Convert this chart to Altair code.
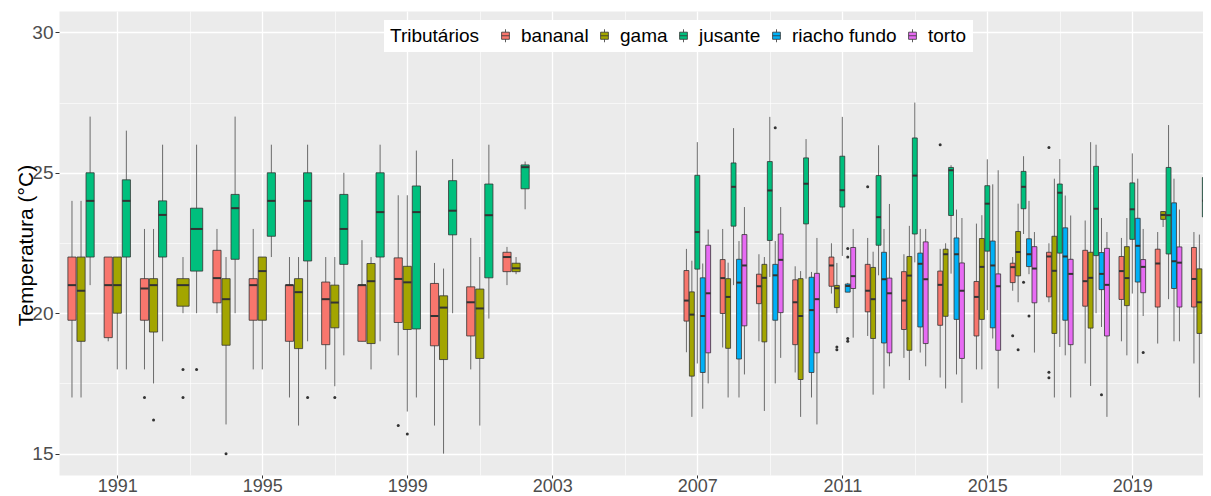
import altair as alt
import pandas as pd

tributaries = ["bananal", "gama", "jusante", "riacho fundo", "torto"]
colors = ["#F8766D", "#A3A500", "#00BF7D", "#00B0F6", "#E76BF3"]

# (year, lower whisker, q1, median, q3, upper whisker)
bananal = [
    (1990, 17.0, 19.75, 21.0, 22.0, 24.0), (1991, 19.0, 19.13, 21.0, 22.0, 22.0),
    (1992, 18.0, 19.75, 20.88, 21.23, 23.0), (1994, 20.0, 20.37, 21.25, 22.24, 23.0),
    (1995, 18.0, 19.75, 21.0, 21.23, 23.0), (1996, 17.0, 19.0, 21.0, 21.0, 22.0),
    (1997, 18.0, 18.88, 20.5, 21.11, 22.0), (1998, 19.0, 19.0, 21.0, 21.0, 22.6),
    (1999, 18.5, 19.67, 21.22, 21.97, 24.2), (2000, 16.0, 18.84, 19.9, 21.06, 21.79),
    (2001, 18.0, 19.19, 20.39, 20.94, 22.68), (2002, 21.0, 21.48, 22.0, 22.17, 22.36),
    (2007, 18.61, 19.72, 20.45, 21.52, 22.29), (2008, 18.78, 19.99, 21.25, 21.91, 23.0),
    (2009, 19.0, 20.34, 20.96, 21.39, 22.1), (2010, 17.89, 18.88, 20.39, 21.19, 21.67),
    (2011, 20.7, 20.96, 21.7, 22.0, 22.49), (2012, 19.19, 20.05, 20.8, 21.74, 22.68),
    (2013, 18.41, 19.42, 20.45, 21.48, 22.1), (2014, 17.71, 19.57, 21.01, 21.5, 22.29),
    (2015, 18.0, 19.19, 20.58, 21.13, 23.19), (2016, 20.8, 21.09, 21.64, 21.78, 22.0),
    (2017, 20.39, 20.58, 22.02, 22.17, 22.49), (2018, 18.21, 20.25, 21.14, 22.24, 23.3),
    (2019, 19.0, 20.49, 21.5, 22.02, 22.68), (2020, 18.92, 20.22, 21.77, 22.28, 22.89),
    (2021, 18.21, 20.22, 21.22, 22.34, 22.89),
]
gama = [
    (1990, 17.0, 19.0, 20.8, 22.0, 24.0), (1991, 18.0, 20.0, 21.0, 22.0, 22.0),
    (1992, 17.5, 19.33, 21.0, 21.23, 23.0), (1993, 20.0, 20.25, 21.0, 21.23, 22.0),
    (1994, 16.04, 18.86, 20.5, 21.23, 22.0), (1995, 18.0, 19.75, 21.5, 22.0, 22.0),
    (1996, 16.0, 18.74, 20.75, 21.23, 22.0), (1997, 17.4, 19.48, 20.38, 21.0, 22.0),
    (1998, 18.0, 18.92, 21.14, 21.77, 22.0), (1999, 16.5, 19.42, 21.1, 21.67, 24.2),
    (2000, 15.0, 18.35, 20.2, 20.62, 21.59), (2001, 16.0, 18.39, 20.17, 20.86, 22.0),
    (2002, 21.39, 21.48, 21.6, 21.78, 22.0),
    (2007, 16.31, 17.76, 19.95, 20.76, 21.87), (2008, 17.0, 18.75, 20.58, 21.23, 21.8),
    (2009, 16.52, 18.98, 21.26, 21.74, 22.0), (2010, 16.31, 17.64, 19.9, 21.23, 21.5),
    (2011, 20.0, 20.2, 20.89, 20.99, 21.79), (2012, 17.1, 19.1, 20.5, 21.63, 22.19),
    (2013, 17.62, 18.68, 21.34, 22.02, 23.11), (2014, 17.32, 19.89, 22.1, 22.28, 22.49),
    (2015, 18.0, 19.78, 21.65, 22.66, 23.49), (2016, 20.39, 21.33, 22.18, 22.91, 23.9),
    (2017, 17.0, 19.28, 21.51, 22.74, 24.79), (2018, 17.41, 19.47, 21.26, 22.17, 26.09),
    (2019, 18.5, 20.27, 21.25, 22.37, 23.39), (2020, 23.07, 23.34, 23.5, 23.62, 23.62),
    (2021, 17.0, 19.28, 20.39, 21.58, 22.8),
]
jusante = [
    (1990, 21.0, 22.0, 24.0, 25.0, 27.0), (1991, 18.0, 22.0, 24.0, 24.75, 26.5),
    (1992, 19.0, 22.0, 23.5, 24.0, 26.0), (1993, 20.0, 21.5, 23.0, 23.74, 26.0),
    (1994, 20.0, 21.92, 23.74, 24.23, 27.0), (1995, 22.0, 22.74, 24.0, 25.0, 26.0),
    (1996, 19.0, 21.86, 24.0, 25.0, 26.0), (1997, 18.5, 21.74, 23.0, 24.23, 25.0),
    (1998, 19.0, 22.0, 23.6, 25.0, 26.0), (1999, 17.0, 19.44, 23.6, 24.53, 25.79),
    (2000, 20.0, 22.79, 23.65, 24.72, 25.49), (2001, 19.81, 21.26, 23.49, 24.6, 26.0),
    (2002, 23.7, 24.43, 25.2, 25.28, 25.4),
    (2007, 18.21, 21.57, 22.89, 24.91, 26.09), (2008, 21.0, 23.1, 24.5, 25.35, 26.59),
    (2009, 21.29, 22.59, 24.37, 25.4, 26.99), (2010, 21.23, 23.18, 24.61, 25.53, 26.2),
    (2011, 22.04, 23.78, 24.38, 25.59, 26.99), (2012, 21.35, 22.42, 23.42, 24.9, 25.98),
    (2013, 21.81, 22.82, 24.9, 26.24, 27.5), (2014, 21.41, 23.48, 25.09, 25.19, 25.27),
    (2015, 20.11, 22.21, 23.9, 24.54, 25.48), (2016, 22.82, 23.72, 24.5, 25.05, 25.59),
    (2017, 18.8, 22.14, 24.29, 24.6, 25.49), (2018, 20.0, 22.05, 23.72, 25.23, 26.0),
    (2019, 20.7, 22.63, 23.7, 24.64, 25.69), (2020, 20.5, 22.11, 23.49, 25.19, 26.7),
    (2021, 21.81, 23.43, 24.0, 24.83, 26.19),
]
riacho_fundo = [
    (2007, 16.6, 17.89, 19.9, 21.26, 21.77), (2008, 17.0, 18.37, 21.09, 21.92, 22.57),
    (2009, 17.5, 19.75, 21.35, 21.74, 22.57), (2010, 17.0, 17.89, 20.11, 21.28, 21.47),
    (2011, 20.75, 20.75, 20.97, 21.04, 21.08), (2012, 17.32, 18.94, 21.21, 22.17, 23.0),
    (2013, 18.6, 19.51, 21.76, 22.14, 23.0), (2014, 17.82, 19.78, 22.1, 22.68, 23.69),
    (2015, 19.1, 19.48, 21.7, 22.57, 24.59), (2016, 21.39, 21.66, 22.1, 22.65, 24.0),
    (2017, 18.5, 19.75, 22.02, 23.04, 24.19), (2018, 19.51, 20.84, 21.4, 22.16, 23.39),
    (2019, 18.21, 21.11, 22.4, 23.38, 24.79), (2020, 19.0, 20.88, 21.85, 23.93, 24.79),
    (2021, 20.31, 21.08, 21.51, 22.93, 23.78),
]
torto = [
    (2007, 17.5, 18.59, 20.71, 22.42, 22.98), (2008, 17.82, 19.55, 21.7, 22.8, 23.78),
    (2009, 18.41, 20.02, 21.9, 22.82, 23.78), (2010, 16.04, 18.59, 20.5, 21.42, 22.68),
    (2011, 19.13, 20.88, 21.32, 22.34, 23.0), (2012, 18.11, 18.59, 20.71, 21.25, 23.89),
    (2013, 18.11, 18.92, 21.21, 22.54, 23.0), (2014, 16.81, 18.39, 20.8, 21.79, 23.39),
    (2015, 17.32, 18.68, 20.96, 21.4, 25.09), (2016, 18.6, 20.37, 21.59, 22.37, 22.89),
    (2017, 17.0, 18.88, 21.4, 21.92, 23.48), (2018, 16.31, 19.19, 21.01, 22.31, 22.89),
    (2019, 19.9, 20.73, 21.65, 21.91, 23.0), (2020, 19.0, 20.22, 21.8, 22.36, 23.69),
]

# outliers: (tributary, year, value)
outliers = [
    ("bananal", 1992, 17.0), ("bananal", 1999, 16.0), ("bananal", 2012, 24.5),
    ("bananal", 2014, 26.0), ("bananal", 2016, 19.2), ("bananal", 2017, 25.9),
    ("bananal", 2017, 17.9), ("bananal", 2017, 17.7),
    ("gama", 1992, 16.2), ("gama", 1993, 18.0), ("gama", 1993, 17.0), ("gama", 1994, 15.0),
    ("gama", 1997, 17.0), ("gama", 1999, 15.7), ("gama", 2011, 18.8), ("gama", 2011, 18.7),
    ("gama", 2016, 18.7),
    ("jusante", 1993, 18.0), ("jusante", 1996, 17.0), ("jusante", 2016, 21.1),
    ("jusante", 2021, 19.1),
    ("riacho fundo", 2009, 26.6), ("riacho fundo", 2011, 22.3), ("riacho fundo", 2011, 22.0),
    ("riacho fundo", 2011, 19.1), ("riacho fundo", 2011, 19.0), ("riacho fundo", 2016, 19.9),
    ("riacho fundo", 2018, 17.1), ("riacho fundo", 2021, 17.5),
    ("torto", 2019, 18.6),
]

major_years = [1991, 1995, 1999, 2003, 2007, 2011, 2015, 2019]
minor_years = [1989, 1993, 1997, 2001, 2005, 2009, 2013, 2017, 2021]
major_temps = [15, 20, 25, 30]
minor_temps = [17.5, 22.5, 27.5]

stats = {"bananal": bananal, "gama": gama, "jusante": jusante,
         "riacho fundo": riacho_fundo, "torto": torto}

# dodge layout (like ggplot position_dodge2): groups sampled in each year
present = {}
for t, recs in stats.items():
    for r in recs:
        present.setdefault(r[0], set()).add(t)
DODGE = 0.75
PAD = 0.9


def slot(trib, year):
    if year >= 2007:
        groups = tributaries  # all five monitored (torto 2021 falls past the cropped edge)
    else:
        groups = [t for t in tributaries if t in present[year]]
    n = len(groups)
    w = DODGE / n
    i = groups.index(trib)
    c = year + (i - (n - 1) / 2) * w
    return c, c - w * PAD / 2, c + w * PAD / 2


rows = []
for t, recs in stats.items():
    for (yr, lo, q1, med, q3, hi) in recs:
        c, l, r = slot(t, yr)
        rows.append(dict(trib=t, year=yr, lo=lo, q1=q1, med=med, q3=q3, hi=hi,
                         center=c, left=l, right=r))
df = pd.DataFrame(rows)

orows = []
for t, yr, v in outliers:
    c, _, _ = slot(t, yr)
    orows.append(dict(trib=t, year=yr, val=v, center=c))
dfo = pd.DataFrame(orows)

x_scale = alt.Scale(domain=[1989.392, 2020.95], nice=False, zero=False)
y_scale = alt.Scale(domain=[14.24, 30.76], nice=False, zero=False)

FONT = "Liberation Sans"

minor_x_axis = alt.Axis(values=minor_years, grid=True, gridColor="white", gridWidth=0.6,
                        labels=False, ticks=False, domain=False, title=None, orient="top")
minor_y_axis = alt.Axis(values=minor_temps, grid=True, gridColor="white", gridWidth=0.6,
                        labels=False, ticks=False, domain=False, title=None, orient="right")
major_x_axis = alt.Axis(values=major_years, format="d", grid=True, gridColor="white",
                        gridWidth=1.3, domain=False, tickColor="#333333", tickSize=3,
                        labelPadding=-1, labelFontSize=18, labelColor="#4D4D4D",
                        labelFont=FONT, title=None, orient="bottom", labelFlush=False)
major_y_axis = alt.Axis(values=major_temps, grid=True, gridColor="white", gridWidth=1.3,
                        domain=False, tickColor="#333333", tickSize=4, labelPadding=2,
                        labelFontSize=19, labelColor="#4D4D4D", labelFont=FONT,
                        title="Temperatura (°C)", titleFontSize=21, titleFont=FONT,
                        titleFontWeight="normal", titleColor="black", titleX=-27,
                        titleY=234, titleAngle=270, titleBaseline="alphabetic",
                        titleAlign="center", orient="left", labelFlush=False)

box_symbol = "M-0.6,-0.55H0.6V0.55H-0.6Z M0,-1V-0.55 M0,0.55V1 M-0.6,0H0.6"

whiskers = alt.Chart(df).mark_rule(color="#6b6b6b", strokeWidth=1, clip=True).encode(
    x=alt.X("center:Q", scale=x_scale, axis=minor_x_axis),
    y=alt.Y("lo:Q", scale=y_scale, axis=minor_y_axis),
    y2="hi:Q",
)

boxes = alt.Chart(df).mark_bar(stroke="#333333", strokeWidth=0.8, clip=True).encode(
    x=alt.X("left:Q", scale=x_scale, axis=major_x_axis),
    x2="right:Q",
    y=alt.Y("q1:Q", scale=y_scale, axis=major_y_axis),
    y2="q3:Q",
    fill=alt.Fill("trib:N", scale=alt.Scale(domain=tributaries, range=colors),
                  legend=alt.Legend(
                      title="Tributários", orient="none", legendX=325, legendY=9,
                      direction="horizontal", titleOrient="left", titleAnchor="middle",
                      titleBaseline="middle", fillColor="white", padding=6,
                      titleFontSize=19, titleFontWeight="normal", titleColor="black",
                      titleFont=FONT, titlePadding=16, labelFontSize=19,
                      labelColor="black", labelFont=FONT, labelOffset=6,
                      columnPadding=6, symbolType=box_symbol, symbolSize=169,
                      symbolStrokeColor="#333333", symbolStrokeWidth=0.8,
                      symbolOpacity=1)),
)

medians = alt.Chart(df).mark_rule(color="#333333", strokeWidth=2, clip=True).encode(
    x=alt.X("left:Q", scale=x_scale, axis=None),
    x2="right:Q",
    y=alt.Y("med:Q", scale=y_scale, axis=None),
)

points = alt.Chart(dfo).mark_circle(color="#333333", size=9, opacity=1, clip=True).encode(
    x=alt.X("center:Q", scale=x_scale, axis=None),
    y=alt.Y("val:Q", scale=y_scale, axis=None),
)

chart = alt.layer(whiskers, boxes, medians, points).resolve_axis(
    x="independent", y="independent"
).properties(
    width=1144, height=464,
    autosize=alt.AutoSizeParams(type="none"),
    padding={"left": 51, "top": 3, "right": 0, "bottom": 21},
    background="white",
).configure(font=FONT).configure_view(fill="#EBEBEB", stroke="transparent")

chart.save("out.html", embed_options={"renderer": "svg", "actions": False})
